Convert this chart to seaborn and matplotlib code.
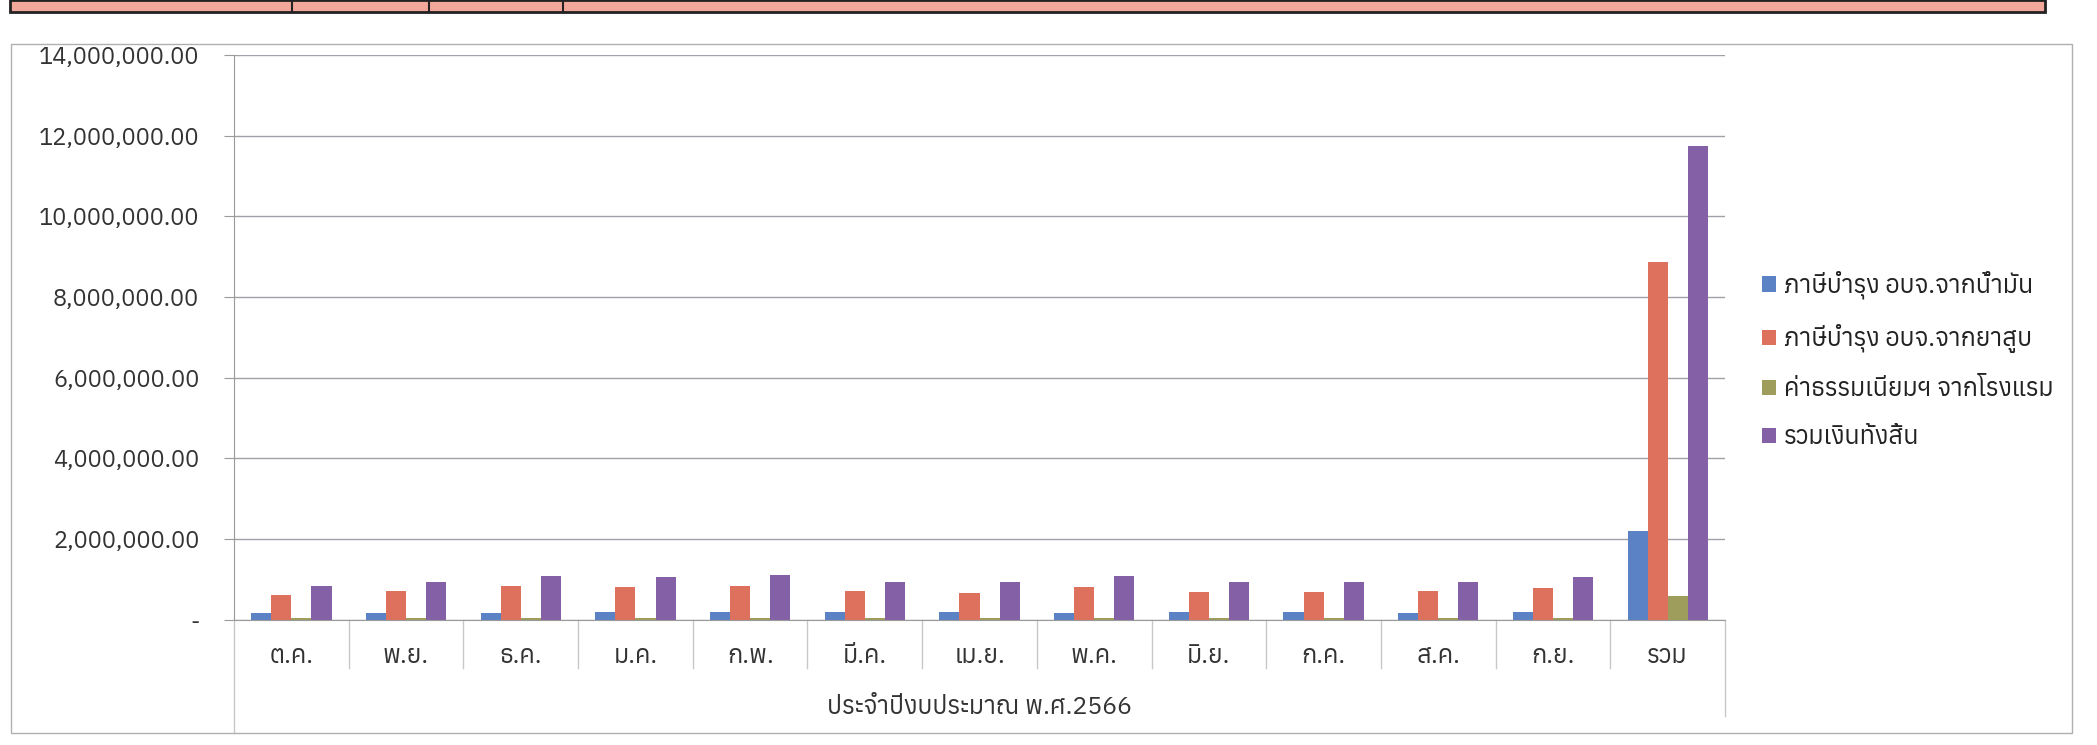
import numpy as np
import pandas as pd
import matplotlib
matplotlib.use("Agg")
import matplotlib.pyplot as plt
import matplotlib.transforms as mtransforms
from matplotlib.patches import Rectangle
import seaborn as sns

# months of fiscal year 2566 + total
months = ['ต.ค.', 'พ.ย.', 'ธ.ค.', 'ม.ค.', 'ก.พ.', 'มี.ค.', 'เม.ย.',
          'พ.ค.', 'มิ.ย.', 'ก.ค.', 'ส.ค.', 'ก.ย.', 'รวม']
series = ['ภาษีบำรุง อบจ.จากน้ำมัน', 'ภาษีบำรุง อบจ.จากยาสูบ',
          'ค่าธรรมเนียมฯ จากโรงแรม', 'รวมเงินทั้งสิ้น']

oil = [160000, 170000, 175000, 190000, 195000, 185000, 200000,
       180000, 185000, 190000, 180000, 195000, 2205000]
tobacco = [615000, 705000, 835000, 805000, 840000, 705000, 675000,
           820000, 690000, 680000, 705000, 800000, 8875000]
hotel = [45000, 48000, 50000, 52000, 50000, 48000, 50000,
         52000, 50000, 48000, 50000, 51000, 594000]
total = [830000, 935000, 1075000, 1060000, 1100000, 945000, 930000,
         1075000, 945000, 935000, 940000, 1050000, 11740000]

colors = ['#5A82C4', '#DE705E', '#9E9D5C', '#8461A6']

plt.rcParams['font.family'] = ['Anuphan', 'DejaVu Sans']

df = pd.DataFrame({'month': months * 4,
                   'series': np.repeat(series, len(months)),
                   'value': oil + tobacco + hotel + total})

fig = plt.figure(figsize=(20.97, 7.45), dpi=100)
ax = fig.add_axes([0.1116, 0.168, 0.711, 0.758])

sns.barplot(data=df, x='month', y='value', hue='series', order=months,
            hue_order=series, palette=dict(zip(series, colors)),
            width=0.7, ax=ax, saturation=1, legend=True)

ax.set_ylim(0, 14000000)
ax.set_xlim(-0.5, len(months) - 0.5)
ax.set_yticks(np.arange(0, 14000001, 2000000))
ax.yaxis.set_major_formatter(plt.FuncFormatter(
    lambda v, p: '-' if v == 0 else f'{v:,.2f}'))
ax.grid(axis='y', color='#a0a0a8', lw=1)
ax.set_axisbelow(True)
for s in ['top', 'right']:
    ax.spines[s].set_visible(False)
ax.spines['left'].set_color('#9a9a9a')
ax.spines['bottom'].set_color('#9a9a9a')
ax.tick_params(axis='y', length=7, color='#9a9a9a', labelsize=17, pad=18,
               labelcolor='#333333')
ax.tick_params(axis='x', length=0, labelsize=18, pad=18, labelcolor='#333333')
ax.set_ylabel('')
ax.set_xlabel('ประจำปีงบประมาณ พ.ศ.2566', fontsize=18, color='#333333',
              labelpad=20)

# category separators below the axis
tr = mtransforms.blended_transform_factory(ax.transData, ax.transAxes)
for b in np.arange(-0.5, len(months), 1.0):
    low = -0.085
    if b == -0.5:
        low = -0.2
    elif b == len(months) - 0.5:
        low = -0.17
    ax.plot([b, b], [0, low], color='#c8c8c8', lw=1, transform=tr,
            clip_on=False)

ax.legend(loc='center left', bbox_to_anchor=(1.01, 0.46), frameon=False,
          fontsize=18, handlelength=0.55, handleheight=0.55, handletextpad=0.3,
          labelspacing=1.0, title=None, labelcolor='#222222')

# chart border and the table edge at the top of the page
fig.patches.append(Rectangle((11 / 2097, 12 / 745), 2061 / 2097, 689 / 745,
                             transform=fig.transFigure, fill=False,
                             ec='#b0b0b0', lw=1))
fig.patches.append(Rectangle((10 / 2097, 733 / 745), 2035 / 2097, 12 / 745,
                             transform=fig.transFigure, fc='#F2A79B',
                             ec='#222222', lw=2))
for x in [292, 429, 563]:
    fig.lines.append(plt.Line2D([x / 2097, x / 2097], [733 / 745, 1],
                                transform=fig.transFigure, color='#222222',
                                lw=1.5))

fig.savefig('out.png', dpi=100, facecolor='white')
